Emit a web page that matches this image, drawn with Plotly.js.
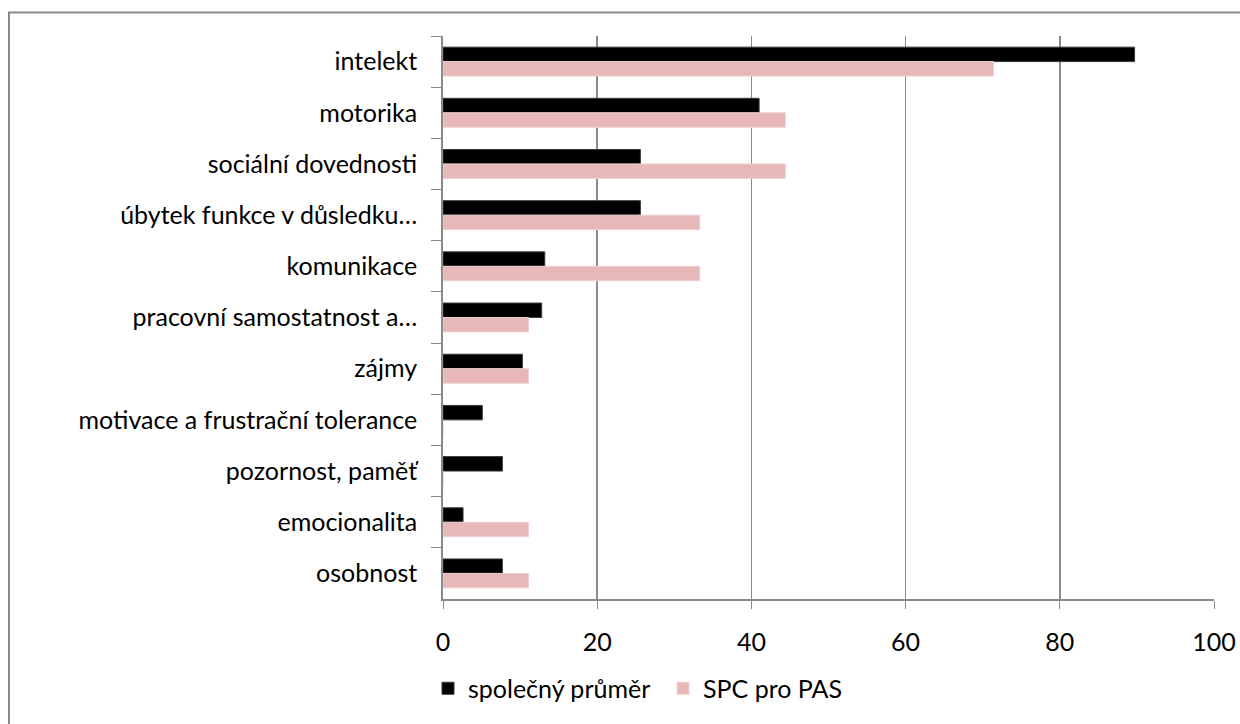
<!DOCTYPE html>
<html>
<head>
<meta charset="utf-8">
<script src="https://cdn.plot.ly/plotly-3.0.1.min.js"></script>
<style>
  html, body { margin: 0; padding: 0; background: #ffffff; }
  #chart { width: 1240px; height: 724px; }
</style>
</head>
<body>
<div id="chart"></div>
<script>
const categories = [
  "intelekt",
  "motorika",
  "sociální dovednosti",
  "úbytek funkce v důsledku…",
  "komunikace",
  "pracovní samostatnost a…",
  "zájmy",
  "motivace a frustrační tolerance",
  "pozornost, paměť",
  "emocionalita",
  "osobnost"
];
const spolecnyPrumer = [89.7, 41.0, 25.6, 25.6, 13.2, 12.8, 10.3, 5.1, 7.7, 2.6, 7.7];
const spcProPas = [71.4, 44.4, 44.4, 33.3, 33.3, 11.1, 11.1, 0, 0, 11.1, 11.1];
const seriesNames = ["společný průměr", "SPC pro PAS"];
const xTicks = [0, 20, 40, 60, 80, 100];

const FONT = "Lato, 'Open Sans', sans-serif";
const FS = 25;
const W = 1240, H = 724;
const L = 443, R = 26, T = 36, B = 122;
const pw = W - L - R, ph = H - T - B;
const px = v => (v - L) / pw;
const py = v => (H - B - v) / ph;

const traces = [
  {
    type: "bar", orientation: "h", name: seriesNames[0],
    y: categories, x: spolecnyPrumer,
    marker: { color: "#000000", line: { color: "#3a3a3a", width: 1 } },
    hoverinfo: "x+y"
  },
  {
    type: "bar", orientation: "h", name: seriesNames[1],
    y: categories, x: spcProPas,
    marker: { color: "#E6B9B8", line: { color: "#F0D0CF", width: 1 } },
    hoverinfo: "x+y"
  }
];

const layout = {
  width: W, height: H,
  margin: { l: L, r: R, t: T, b: B, pad: 0 },
  paper_bgcolor: "#ffffff",
  plot_bgcolor: "#ffffff",
  font: { family: FONT, size: FS, color: "#000000" },
  barmode: "group",
  bargap: 0.435,
  bargroupgap: 0,
  showlegend: true,
  legend: {
    orientation: "h",
    x: px(428), xanchor: "left",
    y: py(692), yanchor: "middle",
    font: { family: FONT, size: FS, color: "#000000" },
    traceorder: "normal",
    itemwidth: 30,
    entrywidth: 190,
    entrywidthmode: "pixels",
    bgcolor: "rgba(0,0,0,0)"
  },
  xaxis: {
    range: [0, 100],
    tickvals: xTicks,
    ticktext: xTicks.map(String),
    showgrid: true,
    gridcolor: "#8a8a8a",
    gridwidth: 1.8,
    zeroline: false,
    showline: true,
    linecolor: "#8a8a8a",
    linewidth: 1.8,
    ticks: "outside",
    ticklen: 8,
    tickwidth: 1,
    tickcolor: "#8a8a8a",
    ticklabelstandoff: 12,
    tickfont: { family: FONT, size: FS, color: "#000000" },
    fixedrange: true
  },
  yaxis: {
    type: "category",
    autorange: "reversed",
    showgrid: false,
    zeroline: false,
    showline: true,
    linecolor: "#8a8a8a",
    linewidth: 1.8,
    ticks: "outside",
    tickson: "boundaries",
    ticklen: 10,
    tickwidth: 1,
    tickcolor: "#8a8a8a",
    ticklabelstandoff: 19,
    tickfont: { family: FONT, size: FS, color: "#000000" },
    fixedrange: true
  },
  shapes: [
    {
      type: "path", xref: "paper", yref: "paper",
      path: `M ${px(9)} ${py(740)} L ${px(9)} ${py(12.5)} L ${px(1260)} ${py(12.5)}`,
      line: { color: "#8a8a8a", width: 2 }
    }
  ]
};

Plotly.newPlot("chart", traces, layout, { displayModeBar: false, staticPlot: true });
</script>
</body>
</html>
